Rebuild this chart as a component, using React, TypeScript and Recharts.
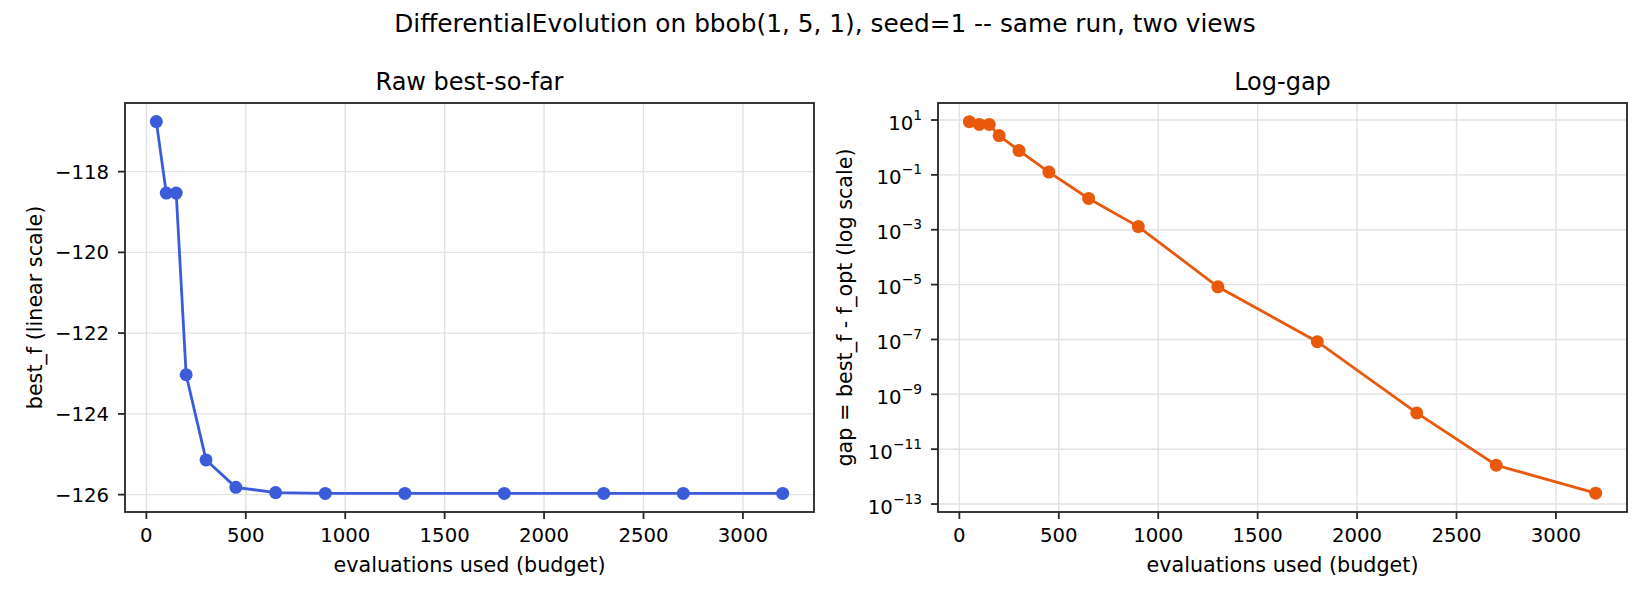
import React from "react";
import {
  LineChart,
  Line,
  XAxis,
  YAxis,
  CartesianGrid,
} from "recharts";

const FONT = "'DejaVu Sans', sans-serif";
const BLUE = "#3b5bdb";
const ORANGE = "#e8590c";
const INK = "#262626";

// evaluations used at each checkpoint
const EVALS = [50, 100, 150, 200, 300, 450, 650, 900, 1300, 1800, 2300, 2700, 3200];

// best_f
const BEST_F = [
  -116.76, -118.53, -118.53, -123.03, -125.14, -125.82, -125.95, -125.97,
  -125.97, -125.97, -125.97, -125.97, -125.97,
];

// best_f - f_opt
const GAP = [
  8.7, 6.9, 6.9, 2.7, 0.77, 0.126, 0.0138, 1.3e-3, 8.3e-6, 8.3e-8, 2.1e-10,
  2.6e-12, 2.5e-13,
];

const X_TICKS = [0, 500, 1000, 1500, 2000, 2500, 3000];
const BEST_TICKS = [-126, -124, -122, -120, -118];
const GAP_TICKS = [1e1, 1e-1, 1e-3, 1e-5, 1e-7, 1e-9, 1e-11, 1e-13];

const data = EVALS.map((x, i) => ({ x, best: BEST_F[i], gap: GAP[i] }));

const tickStyle = { fill: "#000", fontSize: 19.7, fontFamily: FONT };
const tickLine = { stroke: INK, strokeWidth: 1.8 };

function minus(v: number) {
  return String(v).replace("-", "\u2212");
}

function LogTick(props: any) {
  const { x, y, payload } = props;
  const exp = Math.round(Math.log10(payload.value));
  return (
    <text
      x={x}
      y={y}
      textAnchor="end"
      fontFamily={FONT}
      fill="#000"
      fontSize={19.7}
    >
      <tspan dy={9.5}>10</tspan>
      <tspan dy={-10} fontSize={13.8}>
        {minus(exp)}
      </tspan>
    </text>
  );
}

// axes boxes in page pixels
const LEFT_BOX = { x: 125, y: 103, w: 689, h: 409 };
const RIGHT_BOX = { x: 938, y: 103, w: 689, h: 409 };

function Overlay() {
  const t = { fontFamily: FONT, fill: "#000" };
  return (
    <svg
      width={1650}
      height={600}
      style={{ position: "absolute", left: 0, top: 0, pointerEvents: "none" }}
    >
      <text {...t} x={825} y={31.5} fontSize={24.8} textAnchor="middle">
        DifferentialEvolution on bbob(1, 5, 1), seed=1 -- same run, two views
      </text>

      {[LEFT_BOX, RIGHT_BOX].map((b, i) => (
        <rect
          key={i}
          x={b.x}
          y={b.y}
          width={b.w}
          height={b.h}
          fill="none"
          stroke={INK}
          strokeWidth={1.8}
        />
      ))}

      <text {...t} x={469.5} y={90} fontSize={24} textAnchor="middle">
        Raw best-so-far
      </text>
      <text {...t} x={469.5} y={572} fontSize={20.7} textAnchor="middle">
        evaluations used (budget)
      </text>
      <text
        {...t}
        fontSize={20.7}
        textAnchor="middle"
        transform="translate(42, 307.5) rotate(-90)"
      >
        best_f (linear scale)
      </text>

      <text {...t} x={1282.5} y={90} fontSize={24} textAnchor="middle">
        Log-gap
      </text>
      <text {...t} x={1282.5} y={572} fontSize={20.7} textAnchor="middle">
        evaluations used (budget)
      </text>
      <text
        {...t}
        fontSize={20.7}
        textAnchor="middle"
        transform="translate(852, 307.5) rotate(-90)"
      >
        gap = best_f - f_opt (log scale)
      </text>
    </svg>
  );
}

export default function App() {
  return (
    <div
      style={{
        position: "absolute",
        left: 0,
        top: 0,
        width: 1650,
        height: 600,
        background: "#fff",
        overflow: "hidden",
      }}
    >
      {/* left panel: raw values */}
      <div style={{ position: "absolute", left: 0, top: 0 }}>
        <LineChart
          width={830}
          height={600}
          data={data}
          margin={{ top: 103, right: 16, bottom: 48, left: 0 }}
        >
          <CartesianGrid stroke="#e2e2e2" strokeWidth={1.4} />
          <XAxis
            dataKey="x"
            type="number"
            domain={[-107.5, 3357.5]}
            ticks={X_TICKS}
            interval={0}
            allowDataOverflow
            height={40}
            axisLine={false}
            tickLine={tickLine}
            tickSize={7}
            tickMargin={9}
            tick={tickStyle}
          />
          <YAxis
            type="number"
            domain={[-126.43, -116.3]}
            ticks={BEST_TICKS}
            interval={0}
            allowDataOverflow
            width={125}
            axisLine={false}
            tickLine={tickLine}
            tickSize={7}
            tickMargin={9}
            tick={tickStyle}
            tickFormatter={minus}
          />
          <Line
            dataKey="best"
            type="linear"
            stroke={BLUE}
            strokeWidth={2.8}
            dot={{ r: 6.5, fill: BLUE, stroke: BLUE, strokeWidth: 0 }}
            activeDot={false}
            isAnimationActive={false}
          />
        </LineChart>
      </div>

      {/* right panel: log gap */}
      <div style={{ position: "absolute", left: 830, top: 0 }}>
        <LineChart
          width={813}
          height={600}
          data={data}
          margin={{ top: 103, right: 16, bottom: 48, left: 0 }}
        >
          <CartesianGrid stroke="#e2e2e2" strokeWidth={1.4} />
          <XAxis
            dataKey="x"
            type="number"
            domain={[-107.5, 3357.5]}
            ticks={X_TICKS}
            interval={0}
            allowDataOverflow
            height={40}
            axisLine={false}
            tickLine={tickLine}
            tickSize={7}
            tickMargin={9}
            tick={tickStyle}
          />
          <YAxis
            type="number"
            scale="log"
            domain={[Math.pow(10, -13.29), Math.pow(10, 1.62)]}
            ticks={GAP_TICKS}
            interval={0}
            allowDataOverflow
            width={108}
            axisLine={false}
            tickLine={tickLine}
            tickSize={7}
            tickMargin={9}
            tick={<LogTick />}
          />
          <Line
            dataKey="gap"
            type="linear"
            stroke={ORANGE}
            strokeWidth={2.8}
            dot={{ r: 6.5, fill: ORANGE, stroke: ORANGE, strokeWidth: 0 }}
            activeDot={false}
            isAnimationActive={false}
          />
        </LineChart>
      </div>

      <Overlay />
    </div>
  );
}
